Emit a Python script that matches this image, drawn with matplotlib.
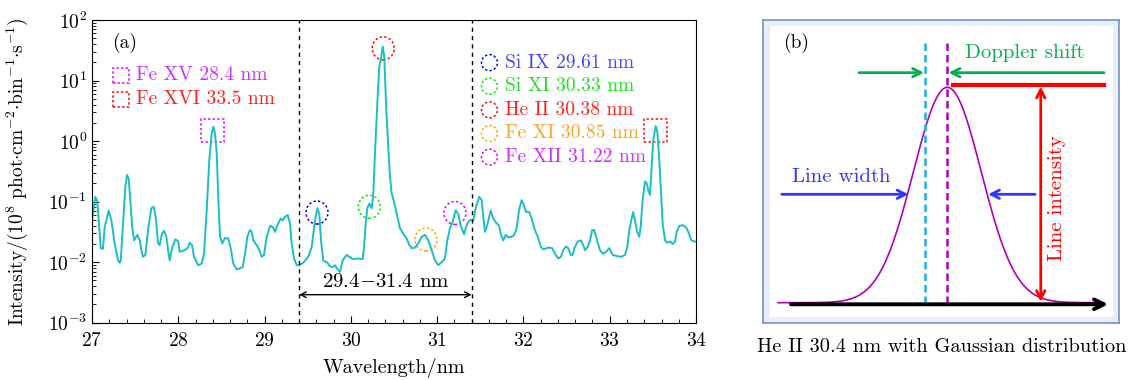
import matplotlib
matplotlib.use("Agg")
import numpy as np
import matplotlib.pyplot as plt
from matplotlib.patches import Ellipse, Rectangle
from matplotlib.transforms import ScaledTranslation

plt.rcParams['font.family'] = 'serif'
plt.rcParams['font.serif'] = ['cmr10']
plt.rcParams['mathtext.fontset'] = 'cm'
plt.rcParams['axes.formatter.use_mathtext'] = True
plt.rcParams['axes.unicode_minus'] = True

# spectrum (wavelength in nm, intensity in 1e8 phot cm-2 bin-1 s-1)
wavelength = [
    27.000, 27.038, 27.061, 27.101, 27.127, 27.147, 27.194, 27.224, 27.263, 27.301,
    27.321, 27.333, 27.359, 27.386, 27.406, 27.425, 27.444, 27.467, 27.487, 27.525,
    27.553, 27.571, 27.591, 27.618, 27.649, 27.687, 27.715, 27.738, 27.765, 27.784,
    27.811, 27.834, 27.861, 27.881, 27.900, 27.927, 27.965, 27.997, 28.016, 28.074,
    28.112, 28.132, 28.159, 28.182, 28.220,
    28.232, 28.271, 28.298, 28.329, 28.359, 28.387, 28.406, 28.425, 28.445, 28.464,
    28.483, 28.510, 28.541, 28.579, 28.607, 28.637, 28.677, 28.715, 28.746, 28.773,
    28.800, 28.831, 28.851, 28.869, 28.908, 28.939, 28.966, 28.993, 29.024, 29.063,
    29.094, 29.121, 29.147, 29.187, 29.210, 29.236, 29.268, 29.294, 29.314, 29.341,
    29.372,
    29.399, 29.448, 29.506, 29.546, 29.584, 29.611, 29.634, 29.654, 29.680, 29.727,
    29.758, 29.789, 29.816, 29.836, 29.874, 29.905, 29.951, 29.990, 30.028, 30.086,
    30.137, 30.152, 30.175, 30.190, 30.213, 30.241, 30.260, 30.279, 30.306, 30.329,
    30.349, 30.369, 30.387, 30.407, 30.433, 30.453, 30.473, 30.499, 30.531,
    30.569, 30.607, 30.647, 30.677, 30.705, 30.743, 30.781, 30.820, 30.859, 30.897,
    30.936, 30.975, 31.013, 31.052, 31.090, 31.117, 31.148, 31.180, 31.214, 31.245,
    31.272, 31.311, 31.334, 31.360, 31.388, 31.418, 31.450, 31.488, 31.516, 31.534,
    31.554, 31.580, 31.620, 31.650, 31.689,
    31.716, 31.739, 31.766, 31.794, 31.824, 31.863, 31.893, 31.921, 31.948, 31.979,
    32.006, 32.029, 32.067, 32.095, 32.125, 32.165, 32.203, 32.230, 32.288, 32.334,
    32.365, 32.403, 32.434, 32.461, 32.492, 32.519, 32.547, 32.570, 32.589, 32.628,
    32.666, 32.693, 32.713, 32.744, 32.771, 32.797, 32.820, 32.848, 32.886,
    32.918, 32.956, 32.994, 33.034, 33.080, 33.138, 33.176, 33.203, 33.226, 33.254,
    33.272, 33.292, 33.318, 33.341, 33.358, 33.381, 33.408, 33.427, 33.446, 33.466,
    33.485, 33.504, 33.532, 33.551, 33.574, 33.594, 33.613, 33.640, 33.667, 33.698,
    33.729, 33.756, 33.776, 33.806, 33.852, 33.892, 33.918, 33.946, 33.984, 34.000,
]
intensity = [
    0.049, 0.120, 0.100, 0.017, 0.0166, 0.038, 0.071, 0.049, 0.0204, 0.0107,
    0.0098, 0.0107, 0.0437, 0.176, 0.275, 0.240, 0.100, 0.0363, 0.0229, 0.0282,
    0.0229, 0.0158, 0.0123, 0.0132, 0.0339, 0.0776, 0.0822, 0.0562, 0.0204, 0.0191,
    0.0295, 0.0331, 0.0263, 0.0158, 0.0107, 0.0170, 0.0237, 0.0224, 0.0148, 0.0158,
    0.0174, 0.0209, 0.0191, 0.0123, 0.0095,
    0.0089, 0.0095, 0.0138, 0.072, 0.49, 1.34, 1.73, 1.34, 0.63, 0.106,
    0.0263, 0.0204, 0.0251, 0.0245, 0.0170, 0.0095, 0.0076, 0.0079, 0.0083, 0.0138,
    0.0263, 0.0339, 0.0316, 0.0229, 0.0191, 0.0158, 0.0123, 0.0132, 0.0263, 0.0398,
    0.038, 0.0316, 0.0407, 0.0525, 0.049, 0.0562, 0.060, 0.0437, 0.0204, 0.0115,
    0.0089,
    0.0089, 0.0098, 0.0123, 0.0178, 0.049, 0.0776, 0.063, 0.0229, 0.0107, 0.0098,
    0.0085, 0.0083, 0.0089, 0.0079, 0.0069, 0.0107, 0.0132, 0.0120, 0.0112, 0.0115,
    0.0112, 0.0178, 0.049, 0.0776, 0.093, 0.0776, 0.136, 0.63, 4.17, 17.0,
    23.4, 36.3, 24.5, 4.17, 0.81, 0.257, 0.136, 0.100, 0.063,
    0.0363, 0.0295, 0.0245, 0.0191, 0.0170, 0.0174, 0.0204, 0.0263, 0.0282, 0.0229,
    0.0158, 0.0107, 0.0089, 0.0100, 0.0115, 0.0229, 0.0363, 0.0468, 0.072, 0.0617,
    0.0407, 0.0288, 0.038, 0.0468, 0.050, 0.049, 0.0822, 0.120, 0.106, 0.0562,
    0.0316, 0.0407, 0.071, 0.0525, 0.0437,
    0.0407, 0.0282, 0.0229, 0.0282, 0.0257, 0.0263, 0.0282, 0.0363, 0.072, 0.106,
    0.087, 0.0676, 0.0676, 0.0525, 0.0363, 0.0263, 0.0178, 0.0162, 0.0174, 0.0170,
    0.0138, 0.0115, 0.0123, 0.0158, 0.0182, 0.0170, 0.0132, 0.0132, 0.0170, 0.0219,
    0.0229, 0.0191, 0.0158, 0.0178, 0.0229, 0.0339, 0.0339, 0.0245, 0.0158,
    0.0138, 0.0148, 0.0170, 0.0132, 0.0126, 0.0123, 0.0132, 0.0178, 0.0339, 0.0525,
    0.0676, 0.049, 0.0316, 0.0263, 0.038, 0.106, 0.214, 0.204, 0.155, 0.129,
    0.376, 1.04, 1.77, 1.43, 0.49, 0.136, 0.0437, 0.0229, 0.0209, 0.0219,
    0.020, 0.0219, 0.0316, 0.0398, 0.0407, 0.0363, 0.0295, 0.0229, 0.0219, 0.0219,
]

# lines marked with dotted circles (label, where the circle sits, colour, text colour)
circle_labels = ['Si IX 29.61 nm', 'Si XI 30.33 nm', 'He II 30.38 nm', 'Fe XI 30.85 nm', 'Fe XII 31.22 nm']
circle_x = [29.607, 30.213, 30.375, 30.87, 31.206]
circle_y = [0.066, 0.082, 34.0, 0.0237, 0.065]
circle_colors = ['#0000ff', '#00ee00', '#ff0000', '#ffa500', '#dd00ff']
circle_text_colors = ['#4545ff', '#22e022', '#ff2020', '#f5a623', '#cc30ff']

# lines marked with dotted squares
square_labels = ['Fe XV 28.4 nm', 'Fe XVI 33.5 nm']
square_x = [28.395, 33.525]
square_y = [1.5, 1.5]
square_colors = ['#dd00ff', '#ff0000']
square_text_colors = ['#cc30ff', '#ff2020']

band = [29.4, 31.4]

fig = plt.figure(figsize=(11.39, 3.80), dpi=100)
ax = fig.add_axes([0.0808, 0.1508, 0.5303, 0.7966])

ax.plot(wavelength, intensity, color='#1cbec4', lw=1.4)
ax.set_yscale('log')
ax.set_xlim(27, 34)
ax.set_ylim(1e-3, 1e2)
ax.set_xticks(range(27, 35))
ax.xaxis.set_minor_locator(matplotlib.ticker.MultipleLocator(0.2))
ax.tick_params(which='both', direction='in', top=False, right=False, labelsize=14)
ax.tick_params(which='major', length=5)
ax.tick_params(which='minor', length=3)
ax.tick_params(axis='x', pad=7)
ax.set_xlabel('Wavelength/nm', fontsize=14.5)
ax.set_ylabel(r'Intensity/(10$^{8}$ phot$\cdot$cm$^{-2}$$\cdot$bin$^{-1}$$\cdot$s$^{-1}$)', fontsize=14)
ax.xaxis.set_label_coords(0.5, -0.115)
ax.yaxis.set_label_coords(-0.103, 0.5)

for b in band:
    ax.axvline(b, color='k', ls=(0, (3, 3)), lw=1)
ax.annotate('', xy=(band[0], 2.9e-3), xytext=(band[1], 2.9e-3),
            arrowprops=dict(arrowstyle='<->', color='k', lw=1, shrinkA=0, shrinkB=0))
ax.text(sum(band) / 2, 4.7e-3, r'29.4$-$31.4 nm', ha='center', va='center', fontsize=15)

ax.text(0.034, 0.925, '(a)', transform=ax.transAxes, fontsize=14, va='center')

# dotted circles around lines
for x, y, c in zip(circle_x, circle_y, circle_colors):
    tr = fig.dpi_scale_trans + ScaledTranslation(x, y, ax.transData)
    ax.add_patch(Ellipse((0, 0), 0.22, 0.23, transform=tr, fill=False, ec=c, ls=(0, (1.5, 1.5)), lw=1.1))

# dotted squares around lines
for x, y, c in zip(square_x, square_y, square_colors):
    tr = fig.dpi_scale_trans + ScaledTranslation(x, y, ax.transData)
    ax.add_patch(Rectangle((-0.115, -0.115), 0.23, 0.23, transform=tr, fill=False, ec=c, ls=(0, (1.5, 1.5)), lw=1.1))

# legend on the left (squares)
for i, (lab, c, tc) in enumerate(zip(square_labels, square_colors, square_text_colors)):
    ypos = 0.818 - i * 0.08
    tr = fig.dpi_scale_trans + ScaledTranslation(0.0485, ypos, ax.transAxes)
    ax.add_patch(Rectangle((-0.08, -0.075), 0.16, 0.15, transform=tr, fill=False, ec=c, ls=(0, (1.5, 1.5)), lw=1.1))
    ax.text(0.073, ypos, lab, transform=ax.transAxes, color=tc, fontsize=14, va='center')

# legend on the right (circles)
for i, (lab, c, tc) in enumerate(zip(circle_labels, circle_colors, circle_text_colors)):
    ypos = 0.859 - i * 0.078
    tr = fig.dpi_scale_trans + ScaledTranslation(0.658, ypos, ax.transAxes)
    ax.add_patch(Ellipse((0, 0), 0.16, 0.16, transform=tr, fill=False, ec=c, ls=(0, (1.5, 1.5)), lw=1.1))
    ax.text(0.684, ypos, lab, transform=ax.transAxes, color=tc, fontsize=14, va='center')

# panel (b): schematic of a Gaussian line profile
ax2 = fig.add_axes([0.6699, 0.15, 0.3126, 0.7974])
ax2.set_xlim(763, 1119)
ax2.set_ylim(323, 20)
ax2.set_xticks([])
ax2.set_yticks([])
ax2.set_facecolor('#e8edf7')
for s in ax2.spines.values():
    s.set_color('#7393c0')
    s.set_linewidth(1.2)
ax2.add_patch(Rectangle((770, 26), 343, 291, fc='white', ec='none'))

peak_x, peak_y, base_y, sigma = 947.3, 87.3, 302.7, 34.0
gx = np.linspace(778, 1103, 400)
gy = base_y - (base_y - peak_y) * np.exp(-0.5 * ((gx - peak_x) / sigma) ** 2)
ax2.plot(gx, gy, color='#b000b8', lw=1.2)

ax2.annotate('', xy=(1108, 304.3), xytext=(791, 304.3),
             arrowprops=dict(arrowstyle='->,head_length=0.7,head_width=0.35', color='k', lw=2.8, shrinkA=0, shrinkB=0))
ax2.plot([925, 925], [42.7, 302], color='#1ab0ea', ls=(0, (3, 1.6)), lw=1.8)
ax2.plot([947.3, 947.3], [42.7, 302], color='#b000b8', ls=(0, (3, 1.6)), lw=1.8)

green = '#00b050'
ax2.annotate('', xy=(924, 72.7), xytext=(859, 72.7),
             arrowprops=dict(arrowstyle='->,head_length=0.6,head_width=0.3', color=green, lw=2, shrinkA=0, shrinkB=0))
ax2.annotate('', xy=(948.5, 72.7), xytext=(1104, 72.7),
             arrowprops=dict(arrowstyle='->,head_length=0.6,head_width=0.3', color=green, lw=2, shrinkA=0, shrinkB=0))
ax2.text(1025, 53.5, 'Doppler shift', color=green, fontsize=15, ha='center', va='center')

ax2.plot([952.7, 1104], [85, 85], color='#ff0000', lw=3)
ax2.annotate('', xy=(1040.7, 86.5), xytext=(1040.7, 302),
             arrowprops=dict(arrowstyle='<->,head_length=0.6,head_width=0.3', color='#ff0000', lw=2, shrinkA=0, shrinkB=0))
ax2.text(1057, 198, 'Line intensity', color='#ff0000', fontsize=15, rotation=90, ha='center', va='center')

blue = '#3535ff'
ax2.annotate('', xy=(908.5, 194.3), xytext=(781.7, 194.3),
             arrowprops=dict(arrowstyle='->,head_length=0.6,head_width=0.3', color=blue, lw=2, shrinkA=0, shrinkB=0))
ax2.annotate('', xy=(988, 194.3), xytext=(1035, 194.3),
             arrowprops=dict(arrowstyle='->,head_length=0.6,head_width=0.3', color=blue, lw=2, shrinkA=0, shrinkB=0))
ax2.text(841, 177, 'Line width', color=blue, fontsize=15, ha='center', va='center')

ax2.text(783, 42.5, '(b)', fontsize=14, va='center')

fig.text(941.7 / 1139, 1 - 347 / 380, 'He II 30.4 nm with Gaussian distribution', fontsize=14.7, ha='center', va='center')

fig.savefig('out.png', dpi=100)
